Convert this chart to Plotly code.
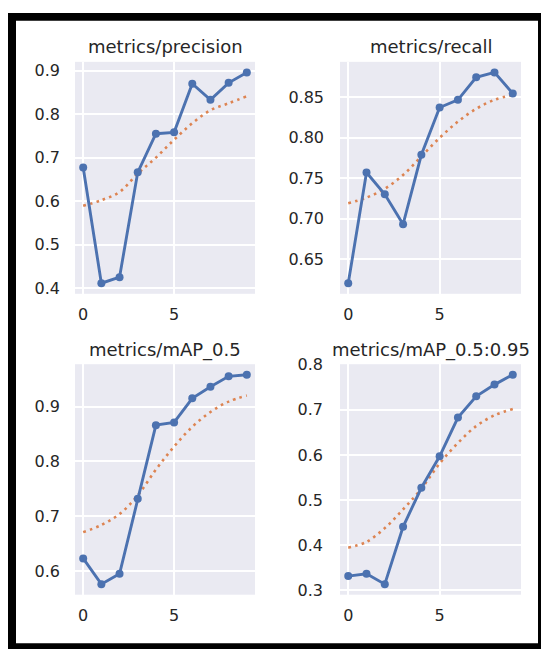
import plotly.graph_objects as go

epochs = [0, 1, 2, 3, 4, 5, 6, 7, 8, 9]

titles = ["metrics/precision", "metrics/recall", "metrics/mAP_0.5", "metrics/mAP_0.5:0.95"]

precision = [0.677, 0.411, 0.425, 0.666, 0.755, 0.758, 0.870, 0.833, 0.872, 0.896]
precision_smooth = [0.589, 0.602, 0.621, 0.663, 0.700, 0.741, 0.779, 0.809, 0.825, 0.841]

recall = [0.620, 0.757, 0.730, 0.693, 0.779, 0.8375, 0.847, 0.875, 0.881, 0.855]
recall_smooth = [0.719, 0.726, 0.737, 0.754, 0.777, 0.800, 0.820, 0.836, 0.847, 0.853]

map50 = [0.623, 0.576, 0.595, 0.732, 0.866, 0.871, 0.915, 0.936, 0.955, 0.958]
map50_smooth = [0.671, 0.684, 0.704, 0.738, 0.785, 0.827, 0.863, 0.890, 0.909, 0.920]

map5095 = [0.331, 0.336, 0.313, 0.4405, 0.527, 0.597, 0.683, 0.730, 0.756, 0.778]
map5095_smooth = [0.394, 0.407, 0.4375, 0.479, 0.525, 0.581, 0.6265, 0.664, 0.688, 0.702]

y_ticks = [
    [0.4, 0.5, 0.6, 0.7, 0.8, 0.9],
    [0.65, 0.70, 0.75, 0.80, 0.85],
    [0.6, 0.7, 0.8, 0.9],
    [0.3, 0.4, 0.5, 0.6, 0.7, 0.8],
]
y_tickfmt = [".1f", ".2f", ".1f", ".1f"]
x_ticks = [0, 5]

series = [
    (precision, precision_smooth),
    (recall, recall_smooth),
    (map50, map50_smooth),
    (map5095, map5095_smooth),
]

W, H = 544, 654
BLUE = "#4C72B0"
ORANGE = "#DD8452"
BG = "#EAEAF2"
TXT = "#262626"

# panel pixel boxes: (left, right, top, bottom)
boxes = [
    (75, 255, 54, 291),
    (340, 521, 54, 291),
    (75, 255, 363, 598.5),
    (340, 521, 363, 598.5),
]
title_y = [38, 38, 348, 348]
ystandoff = [14, 15, 14, 16]

fig = go.Figure()
layout = dict(
    width=W, height=H,
    margin=dict(l=0, r=0, t=0, b=0),
    paper_bgcolor="white",
    plot_bgcolor=BG,
    showlegend=False,
    font=dict(family="DejaVu Sans", color=TXT, size=16),
)

annotations = []
for i, ((vals, smooth), box) in enumerate(zip(series, boxes)):
    n = i + 1
    xa = "x" if n == 1 else f"x{n}"
    ya = "y" if n == 1 else f"y{n}"
    fig.add_trace(go.Scatter(
        x=epochs, y=smooth, mode="lines", xaxis=xa, yaxis=ya,
        line=dict(color=ORANGE, width=2.6, dash="2.6px,4.2px", shape="spline"),
    ))
    fig.add_trace(go.Scatter(
        x=epochs, y=vals, mode="lines+markers", xaxis=xa, yaxis=ya,
        line=dict(color=BLUE, width=2.9), marker=dict(color=BLUE, size=8),
    ))
    l, r, t, b = box
    lo = min(min(vals), min(smooth))
    hi = max(max(vals), max(smooth))
    pad = (hi - lo) * 0.05
    xkey = "xaxis" if n == 1 else f"xaxis{n}"
    ykey = "yaxis" if n == 1 else f"yaxis{n}"
    layout[xkey] = dict(
        domain=[l / W, r / W], anchor=ya, range=[-0.45, 9.45],
        tickvals=x_ticks, showgrid=True, gridcolor="white", gridwidth=1.5,
        zeroline=False, showline=False, ticks="", ticklabelstandoff=9,
        tickfont=dict(size=16, color=TXT),
    )
    layout[ykey] = dict(
        domain=[1 - b / H, 1 - t / H], anchor=xa, range=[lo - pad, hi + pad],
        tickvals=y_ticks[i], tickformat=y_tickfmt[i],
        showgrid=True, gridcolor="white", gridwidth=1.5,
        zeroline=False, showline=False, ticks="", ticklabelstandoff=ystandoff[i],
        tickfont=dict(size=16, color=TXT),
    )
    annotations.append(dict(
        text=titles[i], xref="paper", yref="paper",
        x=(l + r) / 2 / W, y=1 - title_y[i] / H, xanchor="center", yanchor="middle",
        showarrow=False, font=dict(size=18, color=TXT),
    ))

layout["annotations"] = annotations

def rect(x0, y0, x1, y1):
    return dict(type="rect", xref="paper", yref="paper",
                x0=x0 / W, x1=x1 / W, y0=1 - y1 / H, y1=1 - y0 / H,
                fillcolor="black", line=dict(width=0), layer="above")

layout["shapes"] = [
    rect(8, 4, 541, 12),
    rect(8, 4, 16, 654),
    rect(538, 4, 541, 654),
    rect(8, 648, 541, 654),
]

fig.update_layout(**layout)
fig.write_html("out.html")
